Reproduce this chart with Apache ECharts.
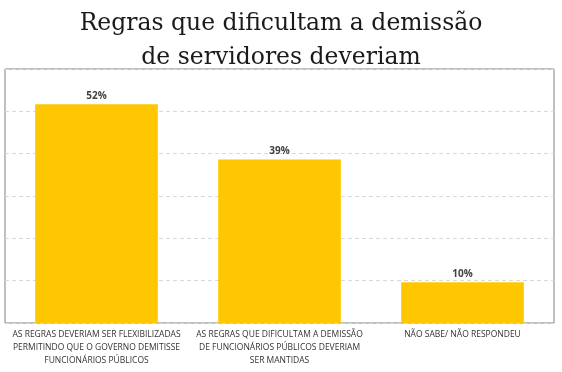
<!DOCTYPE html>
<html>
<head>
<meta charset="utf-8">
<script src="https://cdn.jsdelivr.net/npm/echarts@6/dist/echarts.min.js"></script>
<style>html,body{margin:0;padding:0;background:#fff}#c{width:562px;height:372px}</style>
</head>
<body>
<div id="c"></div>
<script>
const categories = [
  "AS REGRAS DEVERIAM SER FLEXIBILIZADAS\nPERMITINDO QUE O GOVERNO DEMITISSE\nFUNCIONÁRIOS PÚBLICOS",
  "AS REGRAS QUE DIFICULTAM A DEMISSÃO\nDE FUNCIONÁRIOS PÚBLICOS DEVERIAM\nSER MANTIDAS",
  "NÃO SABE/ NÃO RESPONDEU"
];
const values = [51.7, 38.6, 9.6];
const labels = ["52%", "39%", "10%"];
const titleText = "Regras que dificultam a demissão\nde servidores deveriam";

const chart = echarts.init(document.getElementById('c'), null, {renderer: 'canvas'});
chart.setOption({
  animation: false,
  title: {
    text: titleText,
    left: 'center',
    top: 2,
    textStyle: {fontFamily: 'DejaVu Serif', fontSize: 23.5, fontWeight: 'normal', color: '#1a1a1a', lineHeight: 34}
  },
  grid: {left: 5, right: 8, top: 69, bottom: 49, show: true, borderColor: '#808080', borderWidth: 1, containLabel: false},
  xAxis: {
    type: 'category',
    data: categories,
    axisLine: {show: false},
    axisTick: {show: false},
    axisLabel: {interval: 0, fontFamily: 'Open Sans', fontSize: 8.5, color: '#333333', lineHeight: 13, margin: 5}
  },
  yAxis: {
    type: 'value', min: 0, max: 60, interval: 10,
    axisLabel: {show: false},
    axisLine: {show: false},
    axisTick: {show: false},
    splitLine: {lineStyle: {type: [4, 3], color: '#d9d9d9'}}
  },
  series: [{
    type: 'bar',
    data: values,
    barCategoryGap: '33%',
    itemStyle: {color: '#FFC602'},
    label: {
      show: true, position: 'top', distance: 3,
      formatter: p => labels[p.dataIndex],
      fontFamily: 'Open Sans', fontWeight: 'bold', fontSize: 10, color: '#404040'
    }
  }]
});
</script>
</body>
</html>
